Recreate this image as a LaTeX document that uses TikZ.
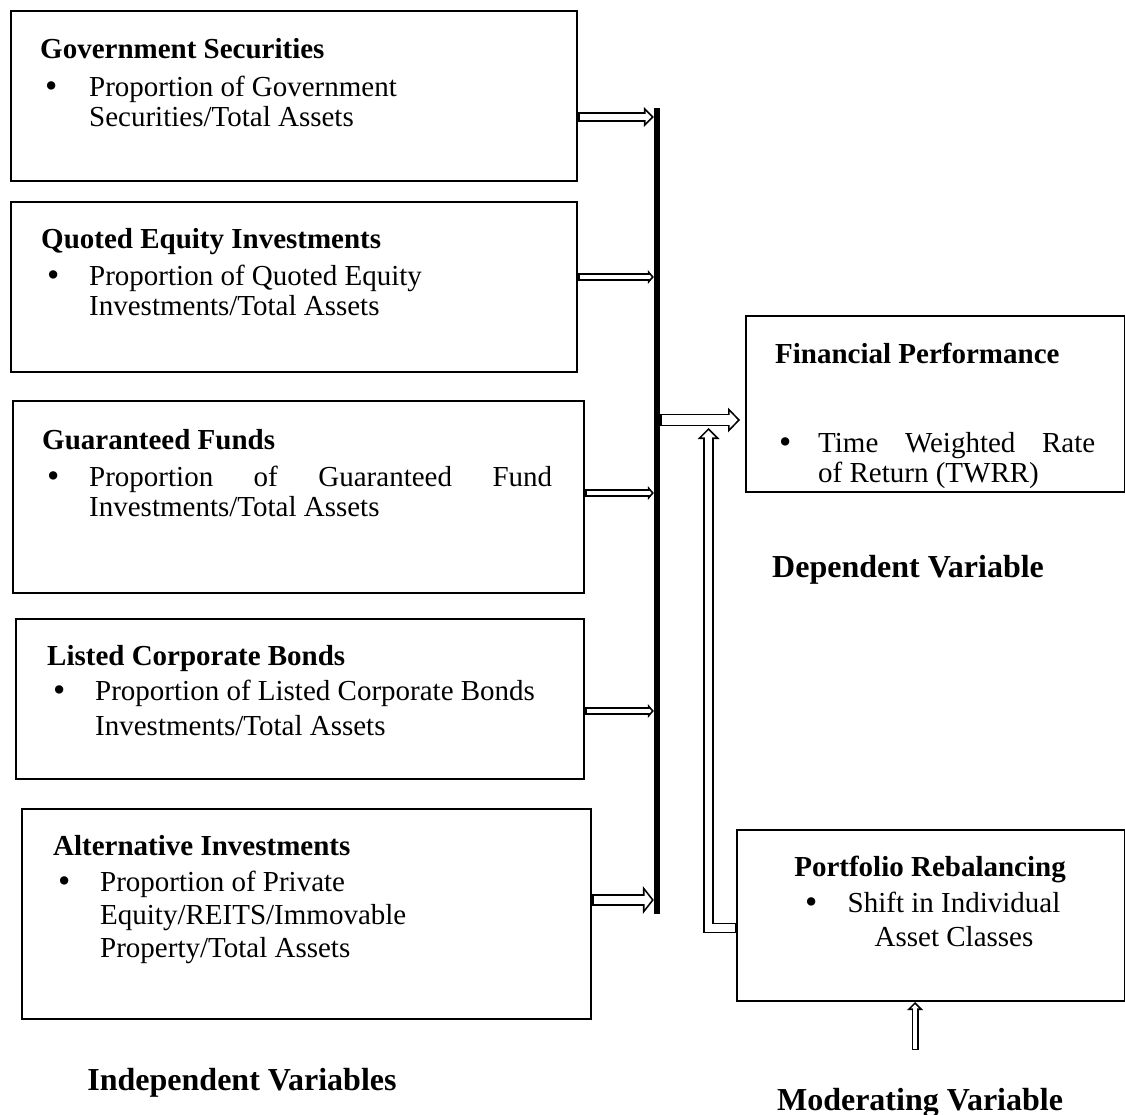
\documentclass[tikz,border=0pt]{standalone}
\usepackage{fontspec}
\setmainfont{Liberation Serif}
\usetikzlibrary{arrows.meta,positioning}
\tikzstyle{diagram} = [x=1pt, y=-1pt]
\tikzstyle{varBox} = [draw, line width=2pt, inner sep=0pt, anchor=north west]
\tikzstyle{boxTitle} = [font=\fontsize{29}{30}\selectfont\bfseries, anchor=base west, inner sep=0pt]
\tikzstyle{boxText} = [font=\fontsize{29}{30}\selectfont, anchor=base west, inner sep=0pt]
\tikzstyle{bulletText} = [font=\fontsize{35}{35}\selectfont, anchor=base west, inner sep=0pt]
\tikzstyle{centerText} = [font=\fontsize{29}{30}\selectfont, anchor=base, inner sep=0pt]
\tikzstyle{groupLabel} = [font=\fontsize{32}{34}\selectfont\bfseries, inner sep=0pt]
\newcommand{\edgeW}{1.7}
\newcommand{\bulletMark}[3]{\node[bulletText] (#1) at (#2,#3+1) {\textbullet};}
% hollow block arrow: path, inner gap, head width, head length
\newcommand{\hollowArrow}[4]{
  \pgfmathsetmacro{\halfW}{#3/2}
  \pgfmathsetmacro{\tipBack}{\edgeW*sqrt(\halfW*\halfW+#4*#4)/\halfW}
  \pgfmathsetmacro{\innerL}{#4-\edgeW-\tipBack}
  \pgfmathsetmacro{\innerW}{#3*\innerL/#4}
  \pgfmathsetmacro{\outerW}{#2+2*\edgeW}
  \draw[line width=\outerW pt, -{Triangle[length=#4pt, width=#3pt, line width=0pt]}] #1;
  \draw[white, line width=#2pt, -{Triangle[length=\innerL pt, width=\innerW pt, line width=0pt]}, shorten >=\tipBack pt, shorten <=1.5pt] #1;
}

\begin{document}
\begin{tikzpicture}[diagram]
        \useasboundingbox (0,0) rectangle (1125,1115);

        % independent variables
        \node[varBox, minimum width=566pt, minimum height=170pt] (govBox) at (10,10) {};
        \node[boxTitle] (govTitle) at (40,59) {Government Securities};
        \bulletMark{govBullet}{45}{97}
        \node[boxText] (govLineA) at (89,97) {Proportion of Government};
        \node[boxText] (govLineB) at (89,127) {Securities/Total Assets};

        \node[varBox, minimum width=566pt, minimum height=170pt] (equityBox) at (10,201) {};
        \node[boxTitle] (equityTitle) at (41,249) {Quoted Equity Investments};
        \bulletMark{equityBullet}{47}{286}
        \node[boxText] (equityLineA) at (89,286) {Proportion of Quoted Equity};
        \node[boxText] (equityLineB) at (89,316) {Investments/Total Assets};

        \node[varBox, minimum width=571pt, minimum height=192pt] (guarBox) at (12,400) {};
        \node[boxTitle] (guarTitle) at (42,449) {Guaranteed Funds};
        \bulletMark{guarBullet}{47}{486}
        \node[boxText] (guarLineA) at (89,486) {\makebox[463pt][s]{Proportion of Guaranteed Fund}};
        \node[boxText] (guarLineB) at (89,516) {Investments/Total Assets};

        \node[varBox, minimum width=568pt, minimum height=160pt] (bondBox) at (15,618) {};
        \node[boxTitle] (bondTitle) at (47,665) {Listed Corporate Bonds};
        \bulletMark{bondBullet}{53}{700}
        \node[boxText] (bondLineA) at (95,700) {Proportion of Listed Corporate Bonds};
        \node[boxText] (bondLineB) at (95,735) {Investments/Total Assets};

        \node[varBox, minimum width=569pt, minimum height=210pt] (altBox) at (21,808) {};
        \node[boxTitle] (altTitle) at (53,855) {Alternative Investments};
        \bulletMark{altBullet}{58}{891}
        \node[boxText] (altLineA) at (100,891) {Proportion of Private};
        \node[boxText] (altLineB) at (100,924) {Equity/REITS/Immovable};
        \node[boxText] (altLineC) at (100,957) {Property/Total Assets};

        \node[groupLabel, anchor=base] (indepLabel) at (242,1090) {Independent Variables};

        % collecting bar
        \node[fill, inner sep=0pt, minimum width=6pt, minimum height=806pt] (bar) at (657,511) {};
        \foreach \boxName/\arrowY/\gapW/\headW/\headL in {govBox/117/6.4/20/10, equityBox/277/4.4/14/6, guarBox/493/4.4/14/6, bondBox/711/4.4/14/6, altBox/900/8.4/28/11} {
          \hollowArrow{(\boxName.east |- 0,\arrowY) -- (bar.west |- 0,\arrowY)}{\gapW}{\headW}{\headL}
        }

        % dependent variable
        \node[varBox, minimum width=379pt, minimum height=176pt] (perfBox) at (745,315) {};
        \node[boxTitle] (perfTitle) at (775,364) {Financial Performance};
        \bulletMark{perfBullet}{779}{452}
        \node[boxText] (perfLineA) at (818,452) {\makebox[277pt][s]{Time Weighted Rate}};
        \node[boxText] (perfLineB) at (818,482) {of Return (TWRR)};
        \path (perfBox.west |- 0,420) ++(-5,0) coordinate (perfIn);
        \hollowArrow{(bar.east |- 0,420) -- (perfIn)}{9.4}{25}{12}
        \node[groupLabel, anchor=base west] (depLabel) at (772,577) {Dependent Variable};

        % moderating variable
        \node[varBox, minimum width=388pt, minimum height=171pt] (rebalBox) at (736,829) {};
        \node[boxTitle, anchor=base] (rebalTitle) at (930,876) {Portfolio Rebalancing};
        \bulletMark{rebalBullet}{805}{912}
        \node[centerText] (rebalLineA) at (954,912) {Shift in Individual};
        \node[centerText] (rebalLineB) at (954,946) {Asset Classes};
        \coordinate (rebalIn) at (rebalBox.west |- 0,928);
        \coordinate (upTip) at (708.5,428);
        \hollowArrow{(rebalIn) -| (upTip)}{7.5}{22}{11}
        \coordinate (modTail) at (915,1050);
        \hollowArrow{(modTail) -- (modTail |- rebalBox.south)}{3.6}{16}{8}
        \node[groupLabel, anchor=base] (modLabel) at (920,1110) {Moderating Variable};
      \end{tikzpicture}
\end{document}
